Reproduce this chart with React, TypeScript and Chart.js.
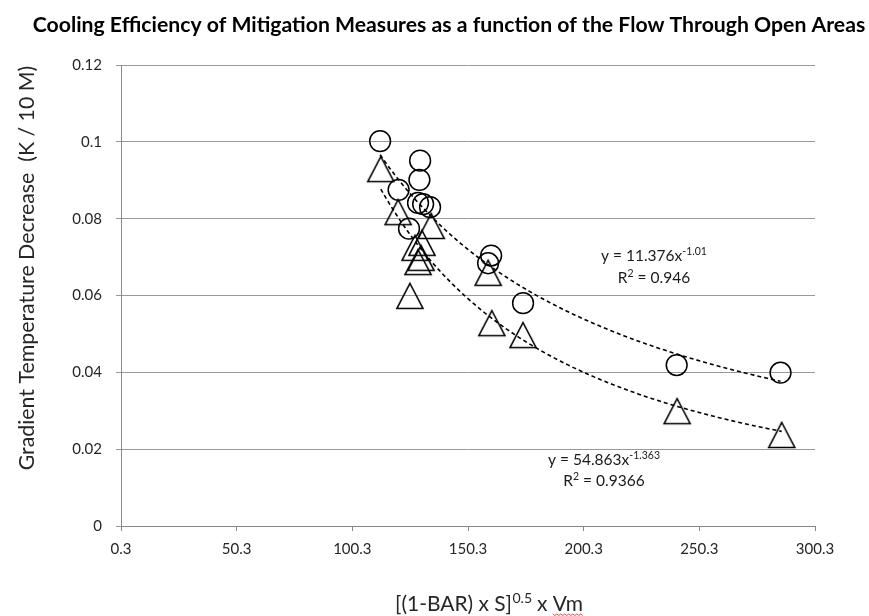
import { useEffect, useRef } from 'react';
import { Chart, registerables } from 'chart.js';

Chart.register(...registerables);

// ---- data ----
const circleX = [112.3, 129.6, 129.3, 120.3, 128.7, 130.9, 133.9, 124.8, 160.3, 159.0, 174.1, 240.5, 285.4];
const circleY = [0.1002, 0.0951, 0.0901, 0.0875, 0.0841, 0.0838, 0.083, 0.0774, 0.0704, 0.0684, 0.058, 0.0419, 0.0399];

const triangleX = [112.6, 120.1, 134.4, 127.4, 130.4, 128.7, 130.0, 125.2, 159.0, 160.6, 174.1, 240.7, 285.9];
const triangleY = [0.0929, 0.0817, 0.0781, 0.0724, 0.0737, 0.0687, 0.0698, 0.0599, 0.0659, 0.0528, 0.0497, 0.0299, 0.0237];

// power trendlines shown on the chart: y = a * x^b
const circleFitA = 11.376;
const circleFitB = -1.01;
const circleFitLabel = ['y = 11.376x', '-1.01', '0.946'];
const triangleFitA = 54.863;
const triangleFitB = -1.363;
const triangleFitLabel = ['y = 54.863x', '-1.363', '0.9366'];

const xTicks = [0.3, 50.3, 100.3, 150.3, 200.3, 250.3, 300.3];
const xTickLabels = ['0.3', '50.3', '100.3', '150.3', '200.3', '250.3', '300.3'];
const yTicks = [0, 0.02, 0.04, 0.06, 0.08, 0.1, 0.12];
const yTickLabels = ['0', '0.02', '0.04', '0.06', '0.08', '0.1', '0.12'];

const chartTitle = 'Cooling Efficiency of Mitigation Measures as a function of the Flow Through Open Areas';
const yTitle = 'Gradient Temperature Decrease  (K / 10 M)';
const xTitleParts = ['[(1-BAR) x S]', '0.5', ' x ', 'Vm'];

const FONT = 'Lato, "Noto Sans", sans-serif';
const TEXT = '#262626';

function makeTriangle() {
  const c = document.createElement('canvas');
  c.width = 32;
  c.height = 32;
  const g = c.getContext('2d')!;
  g.strokeStyle = '#000';
  g.lineWidth = 1.6;
  g.lineJoin = 'miter';
  g.beginPath();
  g.moveTo(16, 3.5);
  g.lineTo(29, 28.5);
  g.lineTo(3, 28.5);
  g.closePath();
  g.stroke();
  return c;
}

function fitSize(ctx: CanvasRenderingContext2D, text: string, weight: string, target: number) {
  ctx.font = `${weight} 20px ${FONT}`;
  const w = ctx.measureText(text).width;
  return (20 * target) / w;
}

function drawEquation(ctx: CanvasRenderingContext2D, label: string[], cx: number, base1: number, base2: number) {
  const size = 15.5;
  const sup = 10.5;
  ctx.fillStyle = '#1a1a1a';
  ctx.textBaseline = 'alphabetic';
  ctx.textAlign = 'left';
  // line 1
  ctx.font = `${size}px ${FONT}`;
  const w1 = ctx.measureText(label[0]).width;
  ctx.font = `${sup}px ${FONT}`;
  const w2 = ctx.measureText(label[1]).width;
  let x = cx - (w1 + w2) / 2;
  ctx.font = `${size}px ${FONT}`;
  ctx.fillText(label[0], x, base1);
  ctx.font = `${sup}px ${FONT}`;
  ctx.fillText(label[1], x + w1, base1 - 6);
  // line 2
  ctx.font = `${size}px ${FONT}`;
  const rw = ctx.measureText('R').width;
  const rest = ' = ' + label[2];
  const restW = ctx.measureText(rest).width;
  ctx.font = `${sup}px ${FONT}`;
  const sw = ctx.measureText('2').width;
  x = cx - (rw + sw + restW) / 2;
  ctx.font = `${size}px ${FONT}`;
  ctx.fillText('R', x, base2);
  ctx.font = `${sup}px ${FONT}`;
  ctx.fillText('2', x + rw, base2 - 6);
  ctx.font = `${size}px ${FONT}`;
  ctx.fillText(rest, x + rw + sw, base2);
}

const overlayPlugin = {
  id: 'overlay',
  afterDatasetsDraw(chart: any) {
    const ctx: CanvasRenderingContext2D = chart.ctx;
    const xs = chart.scales.x;
    const ys = chart.scales.y;
    const drawFit = (a: number, b: number, xsArr: number[]) => {
      const lo = Math.min(...xsArr);
      const hi = Math.max(...xsArr);
      ctx.save();
      ctx.strokeStyle = '#000';
      ctx.lineWidth = 1.6;
      ctx.setLineDash([4, 3]);
      ctx.beginPath();
      const n = 120;
      for (let i = 0; i <= n; i++) {
        const xv = lo + ((hi - lo) * i) / n;
        const yv = a * Math.pow(xv, b);
        const px = xs.getPixelForValue(xv);
        const py = ys.getPixelForValue(yv);
        if (i === 0) ctx.moveTo(px, py);
        else ctx.lineTo(px, py);
      }
      ctx.stroke();
      ctx.restore();
    };
    drawFit(circleFitA, circleFitB, circleX);
    drawFit(triangleFitA, triangleFitB, triangleX);

    ctx.save();
    drawEquation(ctx, circleFitLabel, 654, 261, 283);
    drawEquation(ctx, triangleFitLabel, 604, 465, 486);
    ctx.restore();
  },
  afterDraw(chart: any) {
    const ctx: CanvasRenderingContext2D = chart.ctx;
    ctx.save();
    // main title
    const ts = fitSize(ctx, chartTitle, 'bold', 833);
    ctx.font = `bold ${ts}px ${FONT}`;
    ctx.fillStyle = '#000';
    ctx.textAlign = 'center';
    ctx.textBaseline = 'middle';
    ctx.fillText(chartTitle, 449, 25);

    // y title
    const ys = fitSize(ctx, yTitle, 'normal', 405);
    ctx.save();
    ctx.translate(27, 268);
    ctx.rotate(-Math.PI / 2);
    ctx.font = `${ys}px ${FONT}`;
    ctx.fillStyle = TEXT;
    ctx.textAlign = 'center';
    ctx.textBaseline = 'middle';
    ctx.fillText(yTitle, 0, 0);
    ctx.restore();

    // x title with superscript
    const main = 20;
    const sup = 13.5;
    ctx.textAlign = 'left';
    ctx.textBaseline = 'alphabetic';
    ctx.font = `${main}px ${FONT}`;
    const a = ctx.measureText(xTitleParts[0]).width;
    const c = ctx.measureText(xTitleParts[2]).width;
    const d = ctx.measureText(xTitleParts[3]).width;
    ctx.font = `${sup}px ${FONT}`;
    const b = ctx.measureText(xTitleParts[1]).width;
    const total = a + b + c + d;
    const k = 188 / total;
    const mainK = main * k;
    const supK = sup * k;
    let x = 489 - 94;
    const base = 611;
    ctx.fillStyle = TEXT;
    ctx.font = `${mainK}px ${FONT}`;
    ctx.fillText(xTitleParts[0], x, base);
    x += a * k;
    ctx.font = `${supK}px ${FONT}`;
    ctx.fillText(xTitleParts[1], x + 0.5, base - 8);
    x += b * k;
    ctx.font = `${mainK}px ${FONT}`;
    ctx.fillText(xTitleParts[2], x, base);
    x += c * k;
    ctx.fillText(xTitleParts[3], x, base);
    // spell-check squiggle under "Vm"
    ctx.strokeStyle = '#e02020';
    ctx.lineWidth = 0.8;
    ctx.beginPath();
    const sy = base + 3;
    const dw = Math.round(d * k);
    for (let i = 0; i <= dw; i += 2) {
      const yy = sy + (i % 4 === 0 ? 0 : 1.5);
      if (i === 0) ctx.moveTo(x + i, yy);
      else ctx.lineTo(x + i, yy);
    }
    ctx.stroke();
    ctx.restore();
  },
};

export default function App() {
  const ref = useRef<HTMLCanvasElement>(null);
  useEffect(() => {
    const canvas = ref.current!;
    const tri = makeTriangle();
    const chart = new Chart(canvas, {
      type: 'scatter',
      data: {
        datasets: [
          {
            data: circleX.map((x, i) => ({ x, y: circleY[i] })),
            pointStyle: 'circle',
            pointRadius: 10.4,
            pointHoverRadius: 10.4,
            borderColor: '#000',
            backgroundColor: 'rgba(0,0,0,0)',
            borderWidth: 1.5,
          },
          {
            data: triangleX.map((x, i) => ({ x, y: triangleY[i] })),
            pointStyle: tri as any,
            pointRadius: 13,
            pointHoverRadius: 13,
            borderColor: '#000',
            backgroundColor: 'rgba(0,0,0,0)',
            borderWidth: 1.5,
          },
        ],
      },
      options: {
        responsive: false,
        animation: false,
        devicePixelRatio: 1,
        events: [],
        layout: { padding: { left: 0, top: 65, right: 54, bottom: 0 } },
        plugins: {
          legend: { display: false },
          tooltip: { enabled: false },
          title: { display: false },
        },
        scales: {
          x: {
            type: 'linear',
            min: 0.3,
            max: 300.3,
            afterBuildTicks: (s: any) => {
              s.ticks = xTicks.map((v) => ({ value: v }));
            },
            afterFit: (s: any) => {
              s.height = 90;
            },
            ticks: {
              callback: (v: any) => xTickLabels[xTicks.indexOf(Number(v))] ?? '',
              padding: 9,
              font: { family: FONT, size: 15 },
              color: TEXT,
              maxRotation: 0,
              autoSkip: false,
            },
            grid: { drawOnChartArea: false, drawTicks: true, tickLength: 5, color: '#888' },
            border: { display: true, color: '#888', width: 1 },
          },
          y: {
            type: 'linear',
            min: 0,
            max: 0.12,
            afterBuildTicks: (s: any) => {
              s.ticks = yTicks.map((v) => ({ value: v }));
            },
            afterFit: (s: any) => {
              s.width = 121;
            },
            ticks: {
              callback: (v: any) => yTickLabels[yTicks.indexOf(Number(v))] ?? '',
              padding: 14,
              font: { family: FONT, size: 15 },
              color: TEXT,
              autoSkip: false,
            },
            grid: { drawTicks: true, tickLength: 5, color: '#999' },
            border: { display: true, color: '#888', width: 1 },
          },
        },
      },
      plugins: [overlayPlugin],
    });
    return () => chart.destroy();
  }, []);
  return (
    <canvas
      ref={ref}
      width={869}
      height={616}
      style={{ position: 'fixed', left: 0, top: 0, width: 869, height: 616 }}
    />
  );
}
